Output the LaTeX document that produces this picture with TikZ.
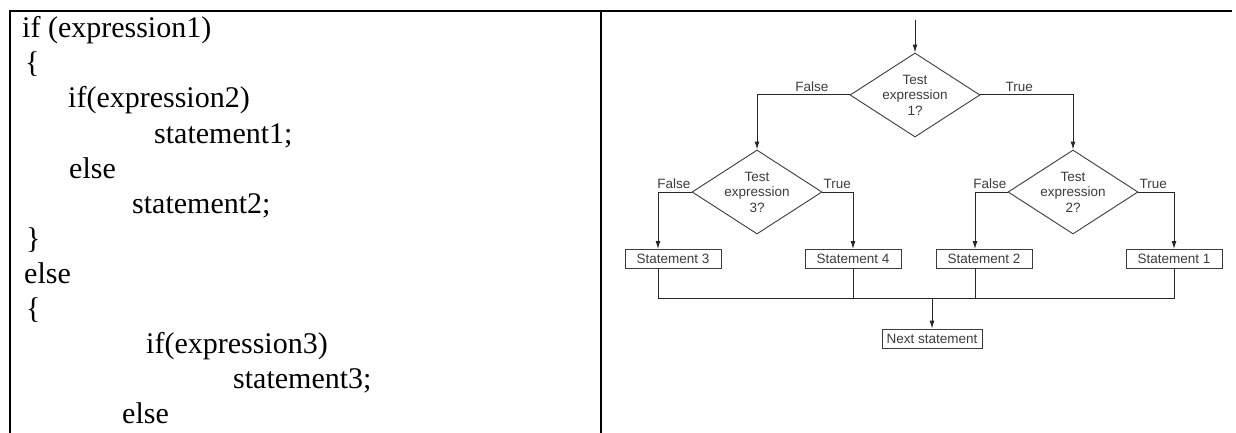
\documentclass[tikz,border=0pt]{standalone}
\usepackage{fontspec}
\setmainfont{Liberation Serif}
\newfontfamily\flowfont{Liberation Sans}
\usetikzlibrary{shapes.geometric, arrows.meta, positioning}
\definecolor{flowgray}{RGB}{60,60,60}

\begin{document}
\begin{tikzpicture}[x=1pt, y=-1pt,
    codeline/.style={anchor=base west, inner sep=0pt, font=\fontsize{30}{36}\selectfont},
    testbox/.style={draw=flowgray, diamond, minimum width=130pt, minimum height=84pt, inner sep=0pt, line width=0.9pt},
    testtext/.style={font=\flowfont\fontsize{13.5}{15.5}\selectfont, text=flowgray, align=center, inner sep=0pt},
    stmt/.style={draw=flowgray, minimum width=96pt, minimum height=19pt, inner sep=0pt, line width=0.9pt,
                 font=\flowfont\fontsize{13.5}{15}\selectfont, text=flowgray},
    branch/.style={font=\flowfont\fontsize{13.5}{15}\selectfont, text=flowgray, inner sep=1pt},
    flow/.style={draw=black!85, line width=1pt},
    arr/.style={flow, -{Latex[length=8pt,width=5pt]}}]
\useasboundingbox (0,0) rectangle (1236,433);

% table borders
\draw[line width=2pt] (9,11) -- (1232,11);
\draw[line width=1.8pt] (10,11) -- (10,433);
\draw[line width=1.8pt] (601,11) -- (601,433);

% code column
\node[codeline] (l1) at (22,38) {if (expression1)};
\node[codeline] (l2) at (25,73) {\{};
\node[codeline] (l3) at (68,108) {if(expression2)};
\node[codeline] (l4) at (154,143) {statement1;};
\node[codeline] (l5) at (69,178) {else};
\node[codeline] (l6) at (132,213) {statement2;};
\node[codeline] (l7) at (26,248) {\}};
\node[codeline] (l8) at (24,283) {else};
\node[codeline] (l9) at (26,318) {\{};
\node[codeline] (l10) at (146,353) {if(expression3)};
\node[codeline] (l11) at (233,388) {statement3;};
\node[codeline] (l12) at (122,423) {else};

% flowchart
\coordinate (entry) at (915,20);
\node[testbox] (d1) at (915,95) {};
\node[testtext] (t1) at (d1) {Test\\expression\\1?};
\node[testbox] (d3) at (757,192) {};
\node[testtext] (t3) at (d3) {Test\\expression\\3?};
\node[testbox] (d2) at (1073,192) {};
\node[testtext] (t2) at (d2) {Test\\expression\\2?};

\node[branch, anchor=south east] (f1) at ([xshift=-20pt, yshift=2pt]d1.west) {False};
\node[branch, anchor=south west] (r1) at ([xshift=24pt, yshift=2pt]d1.east) {True};
\node[branch, anchor=south east] (f3) at ([yshift=2pt]d3.west) {False};
\node[branch, anchor=south west] (r3) at ([yshift=2pt]d3.east) {True};
\node[branch, anchor=south east] (f2) at ([yshift=2pt]d2.west) {False};
\node[branch, anchor=south west] (r2) at ([yshift=2pt]d2.east) {True};

\node[stmt] (s3) at (673,259) {Statement 3};
\node[stmt] (s4) at (853,259) {Statement 4};
\node[stmt] (s2) at (984,259) {Statement 2};
\node[stmt] (s1) at (1174,259) {Statement 1};
\coordinate (join) at (932,298.5);
\coordinate (s3foot) at ([xshift=-15pt]s3.south);
\coordinate (s2foot) at ([xshift=-9pt]s2.south);
\node[stmt, minimum width=100pt] (next) at (932,338.5) {Next statement};

\draw[arr] (entry) -- (d1.north);
\draw[arr] (d1.west) -| (d3.north);
\draw[arr] (d1.east) -| (d2.north);
\draw[arr] (d3.west) -| ([xshift=-15pt]s3.north);
\draw[arr] (d3.east) -| (s4.north);
\draw[arr] (d2.west) -| ([xshift=-9pt]s2.north);
\draw[arr] (d2.east) -| (s1.north);

\draw[flow] (s3foot) |- (join) -| (s1.south);
\draw[flow] (s4.south) -- (s4.south |- join);
\draw[flow] (s2foot) -- (s2foot |- join);
\draw[arr] (join) -- (next.north);
\end{tikzpicture}
\end{document}
